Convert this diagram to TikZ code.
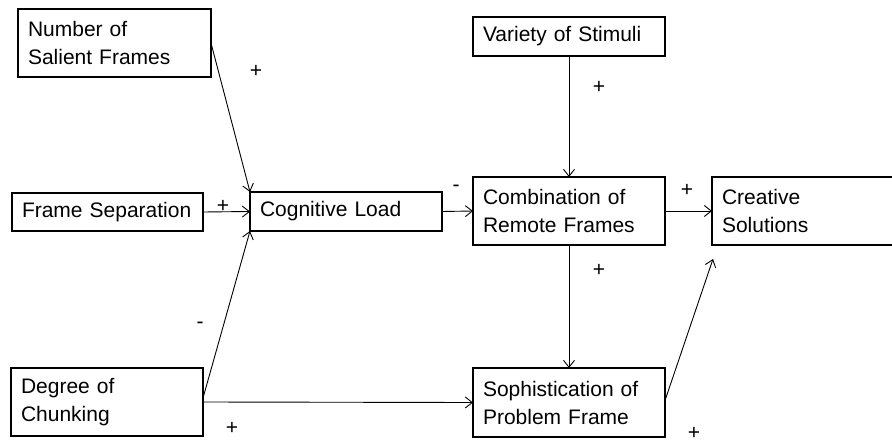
\documentclass[tikz,border=0pt]{standalone}
\usepackage{fontspec}
\setmainfont{Liberation Sans}
\usetikzlibrary{arrows.meta,calc}
\begin{document}
\begin{tikzpicture}[x=1pt,y=-1pt,
  box/.style={draw, line width=1.8pt, inner xsep=10pt, inner ysep=0pt, outer sep=0pt,
    align=left, anchor=north west, font=\fontsize{21}{28}\selectfont},
  link/.style={line width=0.9pt, -{Straight Barb[length=7pt,width=11pt]}},
  sign/.style={font=\fontsize{21}{24}\selectfont, inner sep=0pt}]
\useasboundingbox (0,0) rectangle (892,444);
\fill[white] (0,0) rectangle (892,444);

\node[box, text width=173pt, minimum height=68pt] (nsf) at (18,9) {Number of\\Salient Frames};
\node[box, text width=171pt, minimum height=38pt] (fs) at (12,193) {Frame Separation};
\node[box, text width=172pt, minimum height=39pt] (cl) at (250,192) {Cognitive Load};
\node[box, text width=172pt, minimum height=39pt] (vs) at (473,17) {Variety of Stimuli};
\node[box, text width=172pt, minimum height=68pt] (crf) at (473,177) {Combination of\\Remote Frames};
\node[box, text width=175pt, minimum height=68pt] (cs) at (712,177) {Creative\\Solutions};
\node[box, text width=172pt, minimum height=68pt] (dc) at (11,368) {Degree of\\Chunking};
\node[box, text width=172pt, minimum height=69pt] (spf) at (473,368) {Sophistication of\\Problem Frame};

\coordinate (csin) at ($(cs.south west)+(1,14)$);

\draw[link] (nsf.east) -- (cl.north west);
\draw[link] (fs.east) -- (cl.west);
\draw[link] ($(dc.east)+(0,-4)$) -- (cl.south west);
\draw[link] (dc.east) -- (spf.west);
\draw[link] (cl.east) -- (crf.west);
\draw[link] (vs.south) -- (crf.north);
\draw[link] (crf.east) -- (cs.west);
\draw[link] (crf.south) -- (spf.north);
\draw[link] ($(spf.east)+(0,-2)$) -- (csin);

\node[sign] (s1) at (256,71) {+};
\node[sign] (s2) at (223,206) {+};
\node[sign] (s3) at (456,188) {-};
\node[sign] (s4) at (599,87) {+};
\node[sign] (s5) at (687,190) {+};
\node[sign] (s6) at (599,270) {+};
\node[sign] (s7) at (200,325) {-};
\node[sign] (s8) at (232,428) {+};
\node[sign] (s9) at (694,433) {+};
\end{tikzpicture}
\end{document}
